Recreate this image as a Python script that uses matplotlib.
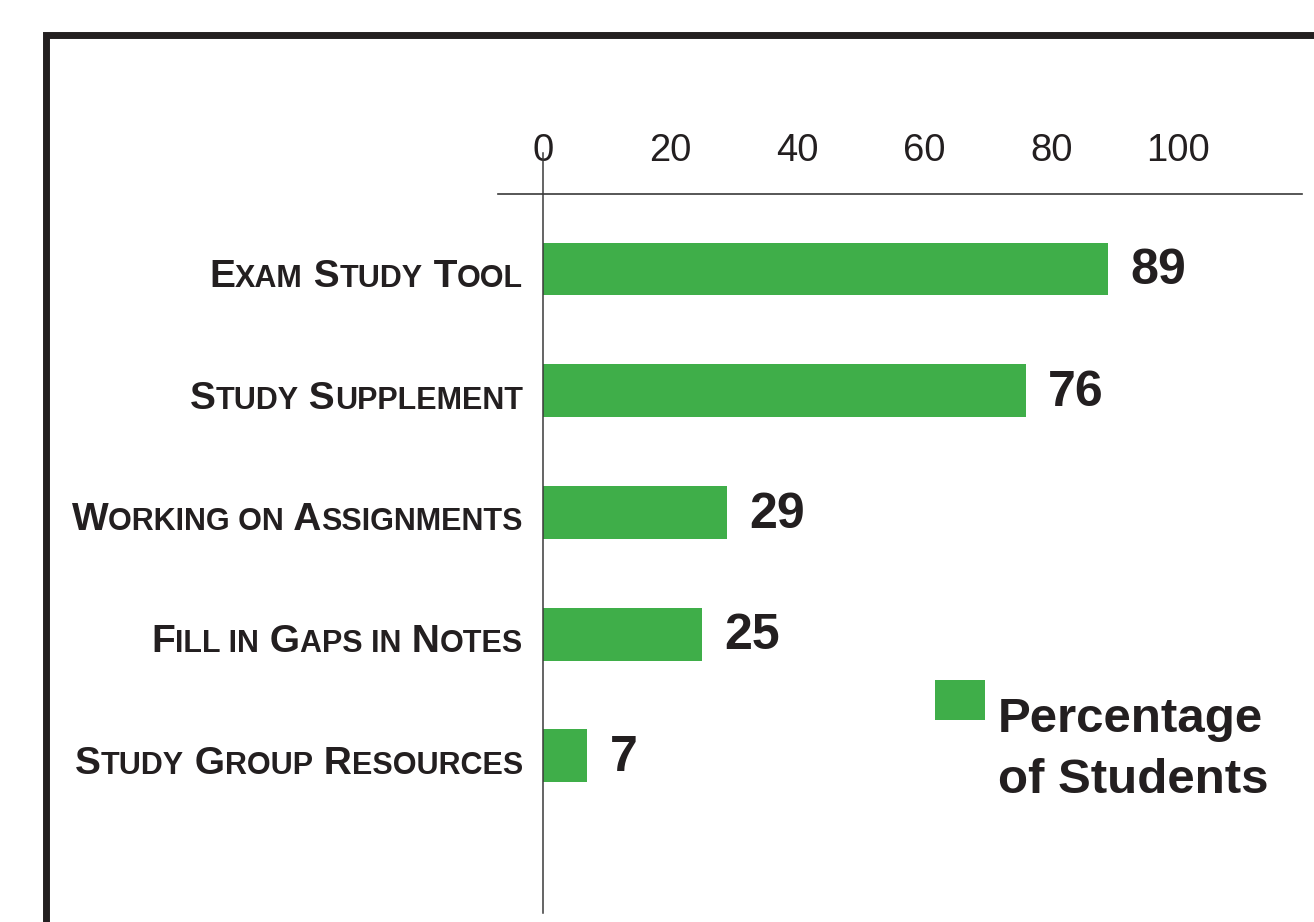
import matplotlib
matplotlib.use("Agg")
import matplotlib.pyplot as plt
from matplotlib.patches import Rectangle
from matplotlib.offsetbox import TextArea, HPacker, AnnotationBbox

plt.rcParams['font.family'] = ['Liberation Sans', 'DejaVu Sans']

categories = ["Exam Study Tool", "Study Supplement", "Working on Assignments",
              "Fill in Gaps in Notes", "Study Group Resources"]
percent = [89, 76, 29, 25, 7]
ticks = [0, 20, 40, 60, 80, 100]
legend_lines = ["Percentage", "of Students"]

green = "#3fae49"
ink = "#231f20"
W, H = 1314, 922

fig = plt.figure(figsize=(W / 100, H / 100), dpi=100)
ax = fig.add_axes([498 / W, 1 - 913 / H, 804 / W, 719 / H])

ypos = list(range(len(categories)))
ax.barh(ypos, percent, height=0.435, color=green)
ax.set_xlim(-7.09, 119.5)
ax.set_ylim(5.29, -0.616)

# ticks along the top
ax.xaxis.tick_top()
ax.set_xticks(ticks)
ax.set_xticklabels([str(t) for t in ticks])
ax.tick_params(axis='x', length=0, pad=18, labelsize=27.5, labelcolor=ink)
ax.set_yticks([])
for s in ['bottom', 'left', 'right']:
    ax.spines[s].set_visible(False)
ax.spines['top'].set_color('#3a3a3a')
ax.spines['top'].set_linewidth(1.2)
ax.axvline(0, ymin=0, ymax=1.057, color='#3a3a3a', lw=1.1, clip_on=False)

# value labels
for y, v in zip(ypos, percent):
    ax.annotate(str(v), (v, y), xytext=(16, -1.5), textcoords='offset points',
                ha='left', va='center', fontsize=36, fontweight='bold', color=ink)


# fake small caps labels
def small_caps(label):
    runs = []
    for i, ch in enumerate(label):
        if ch == ' ':
            nxt = label[i + 1] if i + 1 < len(label) else 'a'
            big = nxt.isupper()
        else:
            big = ch.isupper()
        if runs and runs[-1][0] == big:
            runs[-1][1] += ch.upper()
        else:
            runs.append([big, ch.upper()])
    parts = [TextArea(t, textprops=dict(fontsize=28 if b else 22, fontweight='bold', color=ink))
             for b, t in runs]
    return HPacker(children=parts, align='baseline', pad=0, sep=0)


for y, lab in zip(ypos, categories):
    ab = AnnotationBbox(small_caps(lab), (0, y), xybox=(-14.4, -18.6), boxcoords='offset points',
                        box_alignment=(1, 0), frameon=False, pad=0, annotation_clip=False)
    ax.add_artist(ab)

# legend
fig.add_artist(Rectangle((935 / W, 1 - 720 / H), 50 / W, 40 / H, transform=fig.transFigure,
                         color=green, lw=0))
fig.text(998 / W, 1 - 732 / H, legend_lines[0], fontsize=35.5, fontweight='bold',
         color=ink, va='baseline', ha='left')
fig.text(998 / W, 1 - 793 / H, legend_lines[1], fontsize=35.5, fontweight='bold',
         color=ink, va='baseline', ha='left')

# heavy frame around the figure
fig.add_artist(Rectangle((45.5 / W, -0.2), 2, 1.2 - 35 / H, transform=fig.transFigure,
                         fill=False, edgecolor=ink, lw=5.0, clip_on=False))

fig.savefig("out.png", dpi=100)
